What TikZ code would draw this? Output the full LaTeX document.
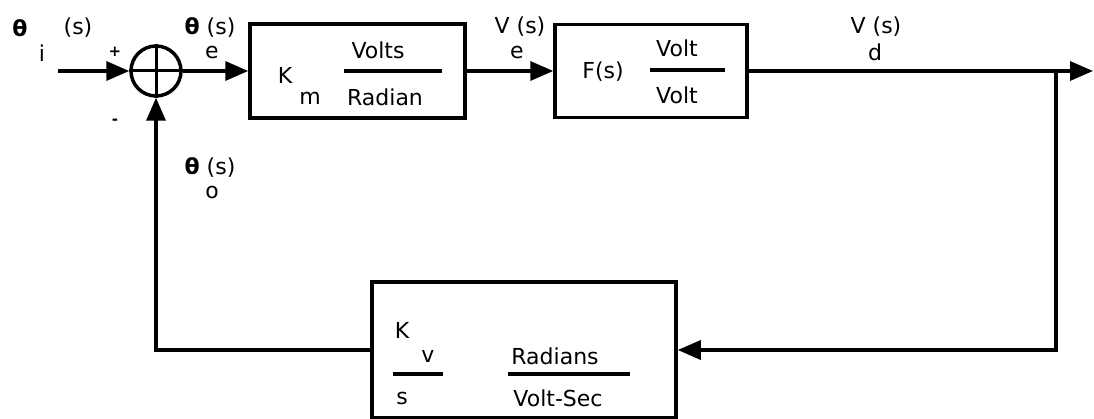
\documentclass[tikz,border=0pt]{standalone}
\usepackage{fontspec}
\setmainfont{DejaVu Sans}
\usetikzlibrary{arrows.meta}
\begin{document}
\begin{tikzpicture}[x=1pt,y=-1pt,
  line width=3.5pt,
  txt/.style={inner sep=0pt,font=\fontsize{22}{24}\selectfont},
  sml/.style={inner sep=0pt,font=\fontsize{22}{24}\selectfont},
  blk/.style={draw,rectangle,inner sep=0pt},
  arr/.style={-{Triangle[length=23pt,width=19pt]}},
  frac/.style={line width=4pt}]
\useasboundingbox (0,0) rectangle (1094,419);

% summing junction
\node[draw,circle,minimum size=50pt,inner sep=0pt] (sum) at (156,71) {};
\draw[line width=3pt] (sum.north) -- (sum.south) (sum.west) -- (sum.east);

% blocks
\node[blk,minimum width=215pt,minimum height=94pt] (b1) at (357.5,71) {};
\node[blk,minimum width=192pt,minimum height=93pt] (b2) at (651,71) {};
\node[blk,minimum width=304pt,minimum height=136pt] (b3) at (524,350) {};

\coordinate (in) at (58,71);
\coordinate (out) at (1093,71);
\coordinate (br) at (1056,71);
\coordinate (brd) at (1056,350);
\coordinate (fbl) at (156,350);

% connectors
\draw[arr] (in) -- (sum.west);
\draw[arr] (sum.east) -- (b1.west);
\draw[arr] (b1.east) -- (b2.west);
\draw[arr] (b2.east) -- (out);
\draw[arr] (br) -- (brd) -- (b3.east);
\draw[arr] (b3.west) -- (fbl) -- (sum.south);

% labels
\node[txt] (ti) at (20,28) {\textbf{θ}};
\node[txt] (tis) at (78,28) {(s)};
\node[sml] (tii) at (42,53) {i};
\node[txt] (plus) at (115,52) {\fontsize{15}{15}\selectfont\textbf{+}};
\node[txt] (minus) at (115,122) {\fontsize{15}{15}\selectfont\textbf{-}};
\node[txt] (te) at (210,28) {\textbf{θ} (s)};
\node[sml] (tee) at (212,52) {e};
\node[txt] (to) at (210,168) {\textbf{θ} (s)};
\node[sml] (too) at (212,192) {o};
\node[txt] (ve) at (520,27) {V (s)};
\node[sml] (vee) at (517,52) {e};
\node[txt] (vd) at (876,27) {V (s)};
\node[sml] (vdd) at (875,52) {d};

% block 1 contents
\node[txt] (k1) at (285,75) {K};
\node[sml] (m1) at (310,98) {m};
\node[txt] (volts) at (378,50) {Volts};
\node[txt] (radian) at (385,97) {Radian};
\draw[frac] (344,71) -- (442,71);

% block 2 contents
\node[txt] (fs) at (603,72) {F(s)};
\node[txt] (volt1) at (677,48) {Volt};
\node[txt] (volt2) at (677,95) {Volt};
\draw[frac] (650,70) -- (725,70);

% block 3 contents
\node[txt] (kv) at (402,330) {K};
\node[sml] (vv) at (428,356) {v};
\draw[frac] (393,374) -- (443,374);
\node[txt] (s3) at (402,398) {s};
\node[txt] (rads) at (555,356) {Radians};
\draw[frac] (508,374) -- (630,374);
\node[txt] (vsec) at (558,398) {Volt-Sec};
\end{tikzpicture}
\end{document}
